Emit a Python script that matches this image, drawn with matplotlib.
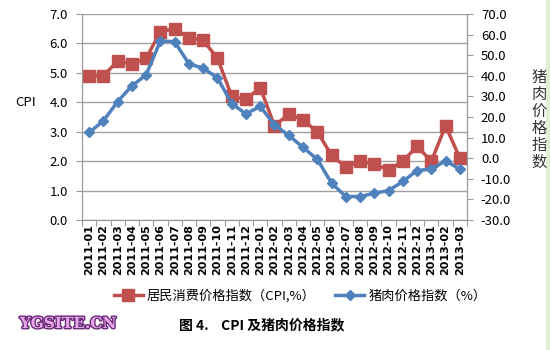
import matplotlib.pyplot as plt
import matplotlib.patheffects as pe

plt.rcParams['font.family'] = ['Noto Sans CJK SC', 'DejaVu Sans']

months = ['2011-01', '2011-02', '2011-03', '2011-04', '2011-05', '2011-06', '2011-07',
          '2011-08', '2011-09', '2011-10', '2011-11', '2011-12', '2012-01', '2012-02',
          '2012-03', '2012-04', '2012-05', '2012-06', '2012-07', '2012-08', '2012-09',
          '2012-10', '2012-11', '2012-12', '2013-01', '2013-02', '2013-03']
cpi = [4.9, 4.9, 5.4, 5.3, 5.5, 6.4, 6.5, 6.2, 6.1, 5.5, 4.2, 4.1, 4.5, 3.2,
       3.6, 3.4, 3.0, 2.2, 1.8, 2.0, 1.9, 1.7, 2.0, 2.5, 2.0, 3.2, 2.1]
pork = [12.5, 18.1, 27.5, 35.1, 40.5, 57.0, 56.5, 45.8, 43.7, 39.0, 26.5, 21.5, 25.2, 16.1,
        11.1, 5.2, -0.5, -12.1, -18.6, -18.6, -17.0, -15.7, -11.3, -6.0, -5.3, -1.3, -5.3]

red = '#C0504D'
blue = '#4F81BD'
grey = '#9a9a9a'

fig = plt.figure(figsize=(5.5, 3.5), dpi=100)
ax = fig.add_axes([82 / 550, 1 - 220 / 350, (467 - 82) / 550, (220 - 14) / 350])
ax2 = ax.twinx()

x = range(len(months))
l1, = ax.plot(x, cpi, color=red, lw=2.5, marker='s', ms=8, label='居民消费价格指数（CPI,%）')
l2, = ax2.plot(x, pork, color=blue, lw=2.5, marker='D', ms=5.5, label='猪肉价格指数（%）')

ax.set_xlim(-0.5, len(months) - 0.5)
ax.set_ylim(0, 7)
ax2.set_ylim(-30, 70)
ax.set_yticks([i for i in range(8)])
ax.set_yticklabels([f'{i:.1f}' for i in range(8)], fontsize=9.5)
ax2.set_yticks(range(-30, 71, 10))
ax2.set_yticklabels([f'{v:.1f}' for v in range(-30, 71, 10)], fontsize=9.5)

ax.set_xticks([i - 0.5 for i in range(len(months) + 1)], minor=False)
ax.set_xticklabels([])
ax.set_xticks(list(x), minor=True)
ax.set_xticklabels(months, minor=True, rotation=90, fontsize=8, fontweight='bold',
                   family='DejaVu Sans')
ax.tick_params(axis='x', which='minor', length=0, pad=3)
ax.tick_params(axis='x', which='major', length=4, color=grey)
ax.tick_params(axis='y', length=4, color=grey, pad=6)
ax2.tick_params(axis='y', length=4, color=grey, pad=6)

ax.grid(axis='y', color='#a0a0a0', lw=1)
for a in (ax, ax2):
    a.spines['top'].set_visible(False)
    for s in ('left', 'right', 'bottom'):
        a.spines[s].set_color(grey)

fig.text(15 / 550, 1 - 103 / 350, 'CPI', fontsize=9.5, va='center')
fig.text(539 / 550, 1 - 120 / 350, '猪\n肉\n价\n格\n指\n数', fontsize=11,
         va='center', ha='center', linespacing=1.0, color='#333333')

fig.legend(handles=[l1, l2], loc='center', bbox_to_anchor=(300 / 550, 1 - 296 / 350),
           ncol=2, frameon=False, fontsize=9.5, handlelength=2.2, columnspacing=1.5,
           handletextpad=0.3)

fig.text(262 / 550, 1 - 325 / 350, '图 4.    CPI 及猪肉价格指数', fontsize=10,
         fontweight='bold', ha='center', va='center')

fig.text(68 / 550, 1 - 324 / 350, 'YGSITE.CN', fontsize=11, fontweight='bold',
         family='DejaVu Serif', color='#E8A8E8', ha='center', va='center',
         path_effects=[pe.withStroke(linewidth=2, foreground='#6B2B7B')])

# light green strip on the right edge of the original image
fig.patches.append(plt.Rectangle((546 / 550, 0), 4 / 550, 1, transform=fig.transFigure,
                                 color='#dff0d8', zorder=0))

fig.savefig('out.png', dpi=100)
